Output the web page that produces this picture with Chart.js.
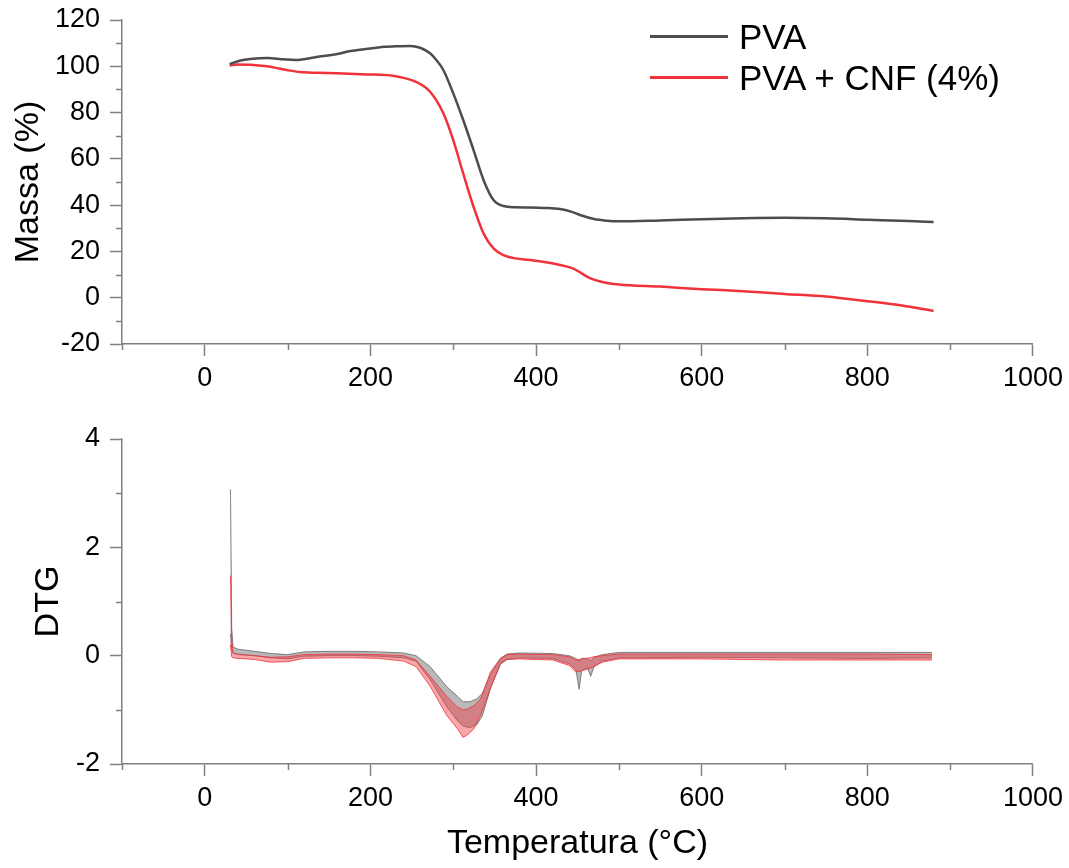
<!DOCTYPE html>
<html>
<head>
<meta charset="utf-8">
<script src="https://cdn.jsdelivr.net/npm/chart.js@4.4.1/dist/chart.umd.min.js"></script>
<style>
  body { margin: 0; background: #fff; width: 1069px; height: 868px; overflow: hidden; position: relative; font-family: "Liberation Sans", Arial, sans-serif; }
  canvas { position: absolute; left: 0; }
  #tga { top: 0; }
  #dtg { top: 420px; }
  #legend { position: absolute; left: 650px; top: 16px; }
  .row { display: flex; align-items: center; height: 41px; }
  .swatch { width: 78px; height: 2.5px; margin-right: 11px; }
  .row span { font-size: 35px; line-height: 41px; color: #000; }
</style>
</head>
<body>
<canvas id="tga" width="1069" height="400"></canvas>
<canvas id="dtg" width="1069" height="448"></canvas>
<div id="legend"></div>
<script>
const seriesNames = ["PVA", "PVA + CNF (4%)"];
const GRAY = "#4d4d4d";
const RED = "#f0323a";
const AXIS = "#808080";

// TGA curves (mass %)
const tgaTempPVA = [30, 40, 55, 75, 95, 110, 135, 160, 176, 200, 216, 235, 248, 260, 272, 280, 288, 300, 312, 324.5, 336.5, 348.6, 360.6, 375, 393, 410, 429, 445, 455, 470, 485, 500, 550, 600, 650, 700, 750, 800, 850, 880];
const tgaMassPVA = [100.9, 102.2, 103.1, 103.6, 103.0, 102.7, 104.0, 105.3, 106.6, 107.7, 108.4, 108.7, 108.8, 108.0, 105.6, 102.5, 98.4, 88.3, 76.8, 63.8, 50.9, 42.2, 39.6, 39.1, 39.0, 38.8, 38.3, 36.9, 35.5, 34.0, 33.3, 33.0, 33.4, 33.9, 34.3, 34.5, 34.3, 33.7, 33.1, 32.7];
const tgaTempCNF = [30, 40, 55, 75, 90, 100, 115, 135, 160, 196, 225, 240, 255, 272, 288, 300, 312, 324.5, 336.5, 348.6, 360.6, 375, 393, 410, 429, 445, 455, 465, 480, 500, 550, 600, 650, 700, 750, 800, 840, 880];
const tgaMassCNF = [100.3, 100.8, 100.7, 100.0, 99.0, 98.3, 97.5, 97.2, 97.0, 96.5, 96.0, 95.0, 93.3, 89.0, 79.7, 68.1, 53.7, 39.3, 27.8, 21.3, 18.4, 17.0, 16.3, 15.4, 14.1, 12.6, 10.5, 8.5, 6.8, 5.7, 4.8, 3.7, 2.8, 1.6, 0.5, -1.5, -3.3, -5.7];

// DTG curves: upper and lower edge of the noisy band
const dtgTempPVA = [31, 32.5, 34, 40, 60, 80, 100, 120, 150, 180, 210, 240, 255, 272, 292, 305, 312, 320, 328, 335, 345, 357, 365, 380, 420, 440, 448, 452, 455, 462, 466, 470, 480, 500, 600, 700, 800, 878];
const dtgHighPVA = [3.07, 0.5, 0.16, 0.12, 0.08, 0.04, 0.02, 0.07, 0.08, 0.08, 0.07, 0.05, 0.0, -0.2, -0.57, -0.75, -0.85, -0.85, -0.8, -0.7, -0.35, -0.05, 0.03, 0.05, 0.04, 0.0, -0.05, -0.1, -0.05, -0.05, -0.1, -0.03, 0.02, 0.06, 0.06, 0.06, 0.06, 0.06];
const dtgLowPVA = [0.4, 0.1, 0.05, 0.03, 0.0, -0.04, -0.06, -0.01, 0.0, 0.0, -0.01, -0.04, -0.1, -0.44, -0.94, -1.2, -1.3, -1.33, -1.28, -1.12, -0.6, -0.16, -0.07, -0.04, -0.05, -0.15, -0.25, -0.62, -0.28, -0.22, -0.38, -0.2, -0.1, -0.04, -0.03, -0.04, -0.05, -0.04];
const dtgTempCNF = [31, 32.5, 34, 40, 60, 80, 100, 120, 150, 180, 210, 240, 255, 272, 292, 305, 312, 318, 325, 333, 345, 357, 365, 380, 420, 440, 448, 455, 462, 470, 480, 500, 600, 700, 800, 878];
const dtgHighCNF = [1.48, 0.3, 0.05, 0.02, 0.0, -0.03, -0.02, 0.02, 0.03, 0.03, 0.02, 0.0, -0.08, -0.38, -0.75, -0.95, -1.0, -0.98, -0.92, -0.8, -0.3, -0.05, 0.02, 0.03, 0.02, -0.02, -0.08, -0.06, -0.05, -0.02, 0.0, 0.03, 0.03, 0.03, 0.03, 0.02];
const dtgLowCNF = [0.2, -0.02, -0.04, -0.05, -0.07, -0.12, -0.11, -0.05, -0.04, -0.04, -0.05, -0.1, -0.2, -0.56, -1.1, -1.35, -1.51, -1.45, -1.35, -1.1, -0.6, -0.14, -0.07, -0.06, -0.08, -0.18, -0.3, -0.28, -0.25, -0.2, -0.12, -0.06, -0.06, -0.08, -0.08, -0.08];

// ticks
const xTicks = [0, 200, 400, 600, 800, 1000];
const xMinor = [-100, 100, 300, 500, 700, 900];
const tgaTicks = [-20, 0, 20, 40, 60, 80, 100, 120];
const tgaMinor = [-10, 10, 30, 50, 70, 90, 110];
const dtgTicks = [-2, 0, 2, 4];
const dtgMinor = [-1, 1, 3];

Chart.defaults.font.family = '"Liberation Sans", Arial, sans-serif';
Chart.defaults.color = "#000";

const pts = (xs, ys) => xs.map((x, i) => ({ x, y: ys[i] }));

// short ticks between the labelled ones
const minorTicks = {
  id: "minorTicks",
  afterDraw(chart, args, opts) {
    const { ctx, scales: { x, y } } = chart;
    ctx.save();
    ctx.strokeStyle = AXIS;
    ctx.lineWidth = 1.5;
    ctx.beginPath();
    opts.x.forEach(v => {
      const px = Math.round(x.getPixelForValue(v)) + 0.5;
      ctx.moveTo(px, x.top);
      ctx.lineTo(px, x.top + 6);
    });
    opts.y.forEach(v => {
      const py = Math.round(y.getPixelForValue(v)) + 0.5;
      ctx.moveTo(y.right, py);
      ctx.lineTo(y.right - 6, py);
    });
    ctx.stroke();
    ctx.restore();
  }
};

function xScale(height, showTitle) {
  return {
    type: "linear", min: -100, max: 1000,
    afterBuildTicks: s => { s.ticks = xTicks.map(v => ({ value: v })); },
    afterFit: s => { s.height = height; },
    border: { color: AXIS, width: 1.5 },
    grid: { drawOnChartArea: false, tickLength: 12, tickColor: AXIS, tickWidth: 1.5 },
    ticks: { padding: 6, font: { size: 27 }, maxRotation: 0, autoSkip: false, callback: v => String(v) },
    title: { display: showTitle, text: "Temperatura (°C)", font: { size: 34 }, padding: { top: 0, bottom: 4 } }
  };
}

function yScale(min, max, ticks, title, titlePad) {
  return {
    min, max,
    afterBuildTicks: s => { s.ticks = ticks.map(v => ({ value: v })); },
    afterFit: s => { s.width = 122; s.paddingTop = 0; s.paddingBottom = 0; },
    border: { color: AXIS, width: 1.5 },
    grid: { drawOnChartArea: false, tickLength: 12, tickColor: AXIS, tickWidth: 1.5 },
    ticks: { padding: 10, font: { size: 27 }, callback: v => String(v) },
    title: { display: true, text: title, font: { size: 34 }, padding: { top: titlePad, bottom: 0 } }
  };
}

const common = {
  responsive: false,
  animation: false,
  elements: { point: { radius: 0 } },
};

new Chart(document.getElementById("tga"), {
  type: "line",
  data: {
    datasets: [
      { label: seriesNames[0], data: pts(tgaTempPVA, tgaMassPVA), borderColor: GRAY, borderWidth: 2.5, cubicInterpolationMode: "monotone" },
      { label: seriesNames[1], data: pts(tgaTempCNF, tgaMassCNF), borderColor: RED, borderWidth: 2.5, cubicInterpolationMode: "monotone" }
    ]
  },
  options: {
    ...common,
    layout: { padding: { top: 20, right: 35, bottom: 0, left: 0 } },
    scales: { x: xScale(56, false), y: yScale(-20, 120, tgaTicks, "Massa (%)", 8) },
    plugins: { legend: { display: false }, tooltip: { enabled: false }, minorTicks: { x: xMinor, y: tgaMinor } }
  },
  plugins: [minorTicks]
});

new Chart(document.getElementById("dtg"), {
  type: "line",
  data: {
    datasets: [
      { data: pts(dtgTempCNF, dtgLowCNF), borderColor: RED, borderWidth: 0.8, fill: false },
      { data: pts(dtgTempCNF, dtgHighCNF), borderColor: RED, borderWidth: 0.8, fill: "-1", backgroundColor: "rgba(242,60,68,0.45)" },
      { data: pts(dtgTempPVA, dtgLowPVA), borderColor: "#666", borderWidth: 0.8, fill: false },
      { data: pts(dtgTempPVA, dtgHighPVA), borderColor: "#666", borderWidth: 0.8, fill: "-1", backgroundColor: "rgba(100,100,100,0.45)" }
    ]
  },
  options: {
    ...common,
    layout: { padding: { top: 19, right: 35, bottom: 0, left: 0 } },
    scales: { x: xScale(104, true), y: yScale(-2, 4, dtgTicks, "DTG", 28) },
    plugins: { legend: { display: false }, tooltip: { enabled: false }, minorTicks: { x: xMinor, y: dtgMinor } }
  },
  plugins: [minorTicks]
});

// legend
const legend = document.getElementById("legend");
[GRAY, RED].forEach((c, i) => {
  const row = document.createElement("div");
  row.className = "row";
  row.innerHTML = `<div class="swatch" style="background:${c}"></div><span>${seriesNames[i]}</span>`;
  legend.appendChild(row);
});
</script>
</body>
</html>
